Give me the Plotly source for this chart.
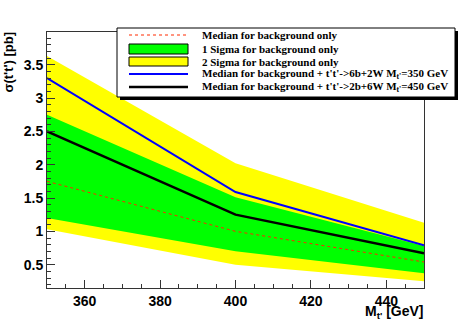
import plotly.graph_objects as go

# mass points [GeV]
mass = [350, 400, 450]

# expected limits for background only
sig2_up = [3.63, 2.02, 1.13]
sig1_up = [2.75, 1.51, 0.78]
median_bkg = [1.75, 1.00, 0.54]
sig1_dn = [1.20, 0.70, 0.37]
sig2_dn = [1.03, 0.50, 0.25]

# median for background + signal
median_6b2w = [3.30, 1.59, 0.79]
median_2b6w = [2.50, 1.25, 0.67]

legend_labels = [
    "Median for background only",
    "1 Sigma for background only",
    "2 Sigma for background only",
    "Median for background + t't'->6b+2W M<sub>t'</sub>=350 GeV",
    "Median for background + t't'->2b+6W M<sub>t'</sub>=450 GeV",
]

W, H = 473, 323
L, R, T, B = 47, 424, 32, 288   # plot frame in pixels


def px(x):
    return (x - L) / (R - L)


def py(y):
    return (B - y) / (B - T)


fig = go.Figure()

# 2 sigma band (yellow)
fig.add_trace(go.Scatter(x=mass, y=sig2_dn, mode="lines", line=dict(width=0), showlegend=False))
fig.add_trace(go.Scatter(x=mass, y=sig2_up, mode="lines", line=dict(width=0), fill="tonexty",
                         fillcolor="#ffff00", showlegend=False))
# 1 sigma band (green)
fig.add_trace(go.Scatter(x=mass, y=sig1_dn, mode="lines", line=dict(width=0), showlegend=False))
fig.add_trace(go.Scatter(x=mass, y=sig1_up, mode="lines", line=dict(width=0), fill="tonexty",
                         fillcolor="#00ff00", showlegend=False))
# lines
fig.add_trace(go.Scatter(x=mass, y=median_bkg, mode="lines",
                         line=dict(color="#ff2a00", width=1, dash="3px,3px"), showlegend=False))
fig.add_trace(go.Scatter(x=mass, y=median_6b2w, mode="lines",
                         line=dict(color="#0000ff", width=2), showlegend=False))
fig.add_trace(go.Scatter(x=mass, y=median_2b6w, mode="lines",
                         line=dict(color="#000000", width=2.5), showlegend=False))

axis_font = dict(family="Liberation Sans", size=14, color="black", weight="bold")

fig.update_xaxes(range=[350, 450], dtick=20, tick0=360, ticks="inside", ticklen=8, tickcolor="#333",
                 showline=True, linecolor="#333", linewidth=1, mirror=True, showgrid=False,
                 zeroline=False, tickfont=axis_font,
                 minor=dict(dtick=5, ticks="inside", ticklen=4, tickcolor="#333", showgrid=False))
fig.update_yaxes(range=[0.15, 3.99], dtick=0.5, tick0=0.5, ticks="inside", ticklen=8, tickcolor="#333",
                 showline=True, linecolor="#333", linewidth=1, mirror=True, showgrid=False,
                 zeroline=False, tickfont=axis_font,
                 minor=dict(dtick=0.1, ticks="inside", ticklen=4, tickcolor="#333", showgrid=False))

shapes = []
annotations = []

# legend box with shadow
shapes.append(dict(type="rect", xref="paper", yref="paper", x0=px(120), x1=px(458), y0=py(31), y1=py(100),
                   fillcolor="#000000", line=dict(width=0), layer="above"))
shapes.append(dict(type="rect", xref="paper", yref="paper", x0=px(117), x1=px(455), y0=py(28), y1=py(97),
                   fillcolor="white", line=dict(color="black", width=1), layer="above"))

rows = [35, 49, 62, 74, 87]
sx0, sx1 = 129, 188
# median bkg
shapes.append(dict(type="line", xref="paper", yref="paper", x0=px(sx0), x1=px(sx1), y0=py(rows[0]), y1=py(rows[0]),
                   line=dict(color="#ff2a00", width=1, dash="3px,3px"), layer="above"))
# 1 sigma box
shapes.append(dict(type="rect", xref="paper", yref="paper", x0=px(sx0), x1=px(sx1), y0=py(rows[1] - 5), y1=py(rows[1] + 5),
                   fillcolor="#00ff00", line=dict(color="black", width=1), layer="above"))
# 2 sigma box
shapes.append(dict(type="rect", xref="paper", yref="paper", x0=px(sx0), x1=px(sx1), y0=py(rows[2] - 5), y1=py(rows[2] + 4),
                   fillcolor="#ffff00", line=dict(color="black", width=1), layer="above"))
shapes.append(dict(type="line", xref="paper", yref="paper", x0=px(sx0), x1=px(sx1), y0=py(rows[3]), y1=py(rows[3]),
                   line=dict(color="#0000ff", width=2), layer="above"))
shapes.append(dict(type="line", xref="paper", yref="paper", x0=px(sx0), x1=px(sx1), y0=py(rows[4]), y1=py(rows[4]),
                   line=dict(color="#000000", width=2.5), layer="above"))

for r, lab in zip(rows, legend_labels):
    annotations.append(dict(x=px(200), y=py(r), xref="paper", yref="paper", xanchor="left", yanchor="middle",
                            text=lab, showarrow=False,
                            font=dict(family="Liberation Serif", size=11, color="black", weight="bold")))

# axis titles
annotations.append(dict(x=px(8), y=py(30), xref="paper", yref="paper", xanchor="center", yanchor="top",
                        text="σ(t't') [pb]", textangle=-90, showarrow=False,
                        font=dict(family="Liberation Sans", size=13, color="black", weight="bold")))
annotations.append(dict(x=px(426), y=py(312), xref="paper", yref="paper", xanchor="right", yanchor="middle",
                        text="M<sub>t'</sub> [GeV]", showarrow=False,
                        font=dict(family="Liberation Sans", size=14, color="black", weight="bold")))

fig.update_layout(width=W, height=H, margin=dict(l=L, r=W - R, t=T, b=H - B),
                  plot_bgcolor="white", paper_bgcolor="white",
                  shapes=shapes, annotations=annotations, showlegend=False)

# page body has a default margin of 8px; drop it so the figure sits at the corner
fig.write_html("out.html", config={"displayModeBar": False},
               post_script="document.body.style.margin='0';")
